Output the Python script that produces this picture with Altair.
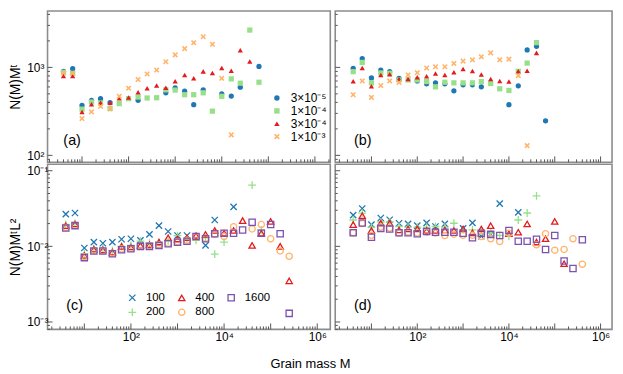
import altair as alt
import pandas as pd

FONT = "Liberation Sans"

# grain-mass bins (shared by all panels)
M = [4, 6.3, 10, 16, 25, 40, 63, 100, 160, 250, 400, 630, 1000, 1600, 2500, 4000,
     6300, 10000, 16000, 25000, 40000, 63000, 100000, 160000, 250000, 400000]

# ---------- panel (a): N(M) M^tau ----------
a_3e5 = [901, 967, 371, 422, 441, 397, None, None, 422, None, None, 514, 586, 537, 377, 556,
         None, 501, 472, 596, None, 1026]
a_1e4 = [879, 855, 335, 404, 394, 340, 387, 441, 460, 449, 452, 556, 552, 489, 489, 514,
         318, 469, 740, 661, 2656, 678]
a_3e4 = [798, 798, 312, 381, 397, 397, 445, 456, 523, 580, 622, 586, 697, 820, 752, 901,
         863, 982, 918, 1564, 1167]
a_1e3 = [863, 857, 262, 312, 361, 340, 469, 580, 727, 841, 933, 1159, 1388, 1633, 1908, 2230,
         1828, 751, 171]

# ---------- panel (b) ----------
b_3e5 = [975, 1262, 759, 933, 894, 752, None, 702, 650, 667, 650, 542, 633, 633, 601, None,
         None, 377, 617, 1580, 1738, 247]
b_1e4 = [894, 1138, 667, 864, 857, 720, 720, 720, 690, 601, 678, 667, 667, 667, 690, 655,
         571, 547, 902, 1119, 1911]
b_3e4 = [697, 983, 612, 820, 834, 739, 739, 772, 792, 850, 820, 879, 958, 910, 830, 739,
         702, 690, 902, 918, 1462]
b_1e3 = [489, 702, 456, 622, 702, 673, 820, 870, 983, 1017, 1017, 1109, 1178, 1219, 1318, 1462,
         1219, 1241, 806, 129]

# ---------- panel (c): N(M) M^tau L^2 ----------
c_100 = [0.0267, 0.0276, 0.0095, 0.0114, 0.0110, 0.0114, 0.0124, 0.0126, 0.0120, 0.0144, 0.0188,
         0.0157, 0.0139, 0.0139, None, 0.0103, 0.0223, None, 0.0333]
c_200 = [0.0195, 0.0201, 0.0080, 0.0093, 0.0093, 0.0088, 0.0100, 0.0103, 0.0117, 0.0110, 0.0112,
         0.0118, 0.0139, 0.0125, 0.0120, 0.0130, 0.0079, 0.0114, None, None, 0.0645, 0.0165]
c_400 = [0.0188, 0.0198, 0.0076, 0.0092, 0.0090, 0.0084, 0.0100, 0.0098, 0.0103, 0.0105, 0.0114,
         0.0130, 0.0125, 0.0130, 0.0139, 0.0144, 0.0162, 0.0149, 0.0162, 0.0219, 0.0103, 0.0149,
         0.0214, 0.0100, 0.0035]
c_800 = [0.0178, 0.0190, 0.0073, 0.0088, 0.0087, 0.0081, 0.0092, 0.0094, 0.0101, 0.0102, 0.0105,
         0.0110, 0.0115, 0.0120, 0.0135, 0.0128, 0.0144, 0.0135, 0.0182, None, 0.0170, 0.0194,
         0.0126, 0.0087, 0.0074]
c_1600 = [0.0175, 0.0188, 0.0071, 0.0087, 0.0087, 0.0080, 0.0090, 0.0093, 0.0100, 0.0100, 0.0103,
          0.0108, 0.0113, 0.0117, 0.0135, 0.0126, 0.0147, 0.0149, 0.0149, 0.0165, 0.0208, 0.0149,
          0.0194, 0.0147, 0.0013]

# ---------- panel (d) ----------
d_100 = [0.0259, 0.0317, 0.0194, 0.0237, 0.0225, 0.0202, 0.0198, 0.0188, 0.0204, 0.0183, 0.0198,
         None, 0.0173, 0.0204, 0.0136, 0.0144, 0.0368, None, 0.0281]
d_200 = [0.0223, 0.0275, 0.0180, 0.0210, 0.0210, 0.0183, 0.0180, 0.0180, 0.0180, 0.0183, 0.0180,
         0.0202, 0.0165, 0.0165, 0.0162, 0.0150, 0.0140, 0.0136, 0.0223, 0.0276, 0.0465]
d_400 = [0.0194, 0.0254, 0.0162, 0.0202, 0.0202, 0.0165, 0.0170, 0.0170, 0.0162, 0.0162, 0.0165,
         0.0162, 0.0170, 0.0151, 0.0170, 0.0188, None, 0.0147, 0.0154, 0.0198, 0.0114, 0.0126,
         0.0214, 0.0059]
d_800 = [0.0151, 0.0200, 0.0140, 0.0180, 0.0175, 0.0150, 0.0155, 0.0150, 0.0155, 0.0150, 0.0139,
         0.0145, 0.0140, 0.0140, 0.0135, 0.0126, 0.0116, 0.0149, None, None, 0.0105, 0.0147,
         0.0089, 0.0091, 0.0126, 0.0058]
d_1600 = [0.0151, 0.0204, 0.0132, 0.0173, 0.0170, 0.0151, 0.0151, 0.0147, 0.0157, 0.0154, 0.0154,
          0.0154, 0.0149, 0.0130, 0.0149, 0.0144, 0.0139, 0.0162, 0.0117, 0.0117, 0.0124, 0.0091,
          0.0139, 0.0064, 0.0051, 0.0122]

TOP_NAMES = ["3×10⁻⁵", "1×10⁻⁴", "3×10⁻⁴", "1×10⁻³"]
BOT_NAMES = ["100", "200", "400", "800", "1600"]

BLUE, GREEN, RED, ORANGE, PURPLE = "#1f77b4", "#98df8a", "#e41a1c", "#ffb46a", "#7b52ae"

X_FILLED = ("M0.64,-1.06L1.06,-0.64L0.42,0L1.06,0.64L0.64,1.06L0,0.42L-0.64,1.06"
            "L-1.06,0.64L-0.42,0L-1.06,-0.64L-0.64,-1.06L0,-0.42Z")
X_LINE = "M-1,-1L1,1M-1,1L1,-1"
PLUS = "M-1.25,0L1.25,0M0,-1.25L0,1.25"

TOP_COLORS = [BLUE, GREEN, RED, ORANGE]
TOP_SHAPES = ["circle", "square", "triangle-up", X_FILLED]
BOT_COLORS = [BLUE, GREEN, RED, ORANGE, PURPLE]
BOT_SHAPES = [X_LINE, PLUS, "triangle-up", "circle", "square"]


def long_df(names, lists):
    rows = []
    for name, vals in zip(names, lists):
        for m, v in zip(M, vals):
            if v is not None:
                rows.append({"M": m, "v": v, "s": name})
    return pd.DataFrame(rows)


def log_ticks(lo, hi):
    major, minor = [], []
    for e in range(-4, 8):
        for d in range(1, 10):
            t = d * 10.0 ** e
            if lo * 1.0001 < t < hi * 0.9999:
                (major if d == 1 else minor).append(t)
    return major, minor


TOP_Y = [10 ** 1.921, 10 ** 3.640]
BOT_Y = [10 ** -3.098, 10 ** -0.915]
XA = [10 ** 0.26, 10 ** 6.33]
XC = [10 ** 0.21, 10 ** 6.28]
XBD = [10 ** 0.21, 10 ** 6.25]

W_L, W_R = 286, 280
H_T, H_B = 153, 167


def x_axis():
    return alt.Axis(values=[100, 10000, 1000000],
                    labelExpr="datum.value < 1000 ? '10²' : datum.value < 100000 ? '10⁴' : '10⁶'",
                    ticks=False, tickSize=0, domain=False, grid=False, title=None,
                    labelFontSize=12, labelPadding=2, labelFont=FONT, labelColor="black")


def y_axis(top):
    if top:
        vals = [100, 1000]
        expr = "datum.value < 500 ? '10²' : '10³'"
        title = "N(M)Mᵗ"
    else:
        vals = [0.001, 0.01, 0.1]
        expr = "datum.value < 0.005 ? '10⁻³' : datum.value < 0.05 ? '10⁻²' : '10⁻¹'"
        title = "N(M)MᵗL²"
    return alt.Axis(values=vals, labelExpr=expr, ticks=False, tickSize=0, domain=False,
                    grid=False, title=title, titleFontSize=14, titleFontWeight="normal",
                    titleFont=FONT, titleColor="black", titlePadding=4,
                    labelAlign="left", labelBaseline="middle", labelPadding=21,
                    labelFontSize=12, labelFont=FONT, labelColor="black")


def panel(df, names, colors, shapes, xdom, ydom, W, H, xax, yax, legend,
          filled, size, sw, label, lx, ly):
    xs = alt.Scale(type="log", domain=xdom, nice=False)
    ys = alt.Scale(type="log", domain=ydom, nice=False)
    pts = alt.Chart(df).mark_point(filled=filled, size=size, strokeWidth=sw, opacity=1).encode(
        x=alt.X("M:Q", scale=xs, axis=xax),
        y=alt.Y("v:Q", scale=ys, axis=yax),
        color=alt.Color("s:N", scale=alt.Scale(domain=names, range=colors), legend=legend),
        shape=alt.Shape("s:N", scale=alt.Scale(domain=names, range=shapes), legend=legend),
    )
    xmaj, xmin = log_ticks(*xdom)
    ymaj, ymin = log_ticks(*ydom)
    layers = [pts]
    for vals, ln in ((xmaj, 6), (xmin, 3)):
        layers.append(alt.Chart(pd.DataFrame({"t": vals})).mark_rule(color="#555", strokeWidth=1)
                      .encode(x=alt.X("t:Q", scale=xs, axis=xax),
                              y=alt.value(H), y2=alt.value(H - ln)))
    for vals, ln in ((ymaj, 5), (ymin, 2.5)):
        layers.append(alt.Chart(pd.DataFrame({"t": vals})).mark_rule(color="#555", strokeWidth=1)
                      .encode(y=alt.Y("t:Q", scale=ys, axis=yax),
                              x=alt.value(0), x2=alt.value(ln)))
    layers.append(alt.Chart(pd.DataFrame({"t": [label]}))
                  .mark_text(align="left", baseline="middle", fontSize=14.5, font=FONT, color="black")
                  .encode(text="t:N", x=alt.value(lx), y=alt.value(ly)))
    return alt.layer(*layers).properties(width=W, height=H)


top_legend = alt.Legend(orient="none", legendX=226, legendY=82, title=None, labelFontSize=12,
                        labelFont=FONT, labelColor="black", symbolSize=30, rowPadding=1,
                        labelOffset=8, padding=0)
bot_legend = alt.Legend(orient="none", legendX=80, legendY=129, title=None, columns=3,
                        columnPadding=10, rowPadding=2, labelFontSize=11.5, labelFont=FONT,
                        labelColor="black", symbolSize=40, symbolStrokeWidth=1.3,
                        labelOffset=8, padding=0)

dfa = long_df(TOP_NAMES, [a_3e5, a_1e4, a_3e4, a_1e3])
dfb = long_df(TOP_NAMES, [b_3e5, b_1e4, b_3e4, b_1e3])
dfc = long_df(BOT_NAMES, [c_100, c_200, c_400, c_800, c_1600])
dfd = long_df(BOT_NAMES, [d_100, d_200, d_400, d_800, d_1600])

pa = panel(dfa, TOP_NAMES, TOP_COLORS, TOP_SHAPES, XA, TOP_Y, W_L, H_T, None, y_axis(True),
           top_legend, True, 28, 1, "(a)", 16, 131)
pb = panel(dfb, TOP_NAMES, TOP_COLORS, TOP_SHAPES, XBD, TOP_Y, W_R, H_T, None, None,
           None, True, 28, 1, "(b)", 19, 131)
pc = panel(dfc, BOT_NAMES, BOT_COLORS, BOT_SHAPES, XC, BOT_Y, W_L, H_B, x_axis(), y_axis(False),
           bot_legend, False, 40, 1.3, "(c)", 19, 143)
pd_ = panel(dfd, BOT_NAMES, BOT_COLORS, BOT_SHAPES, XBD, BOT_Y, W_R, H_B, x_axis(), None,
            None, False, 40, 1.3, "(d)", 19, 143)

chart = alt.concat(pa, pb, pc, pd_, columns=2).properties(
    spacing={"row": 2, "column": 5},
    bounds="flush",
    padding={"left": 0, "top": 0, "right": 2, "bottom": 0},
    title=alt.TitleParams(text="Grain mass M", orient="bottom", anchor="middle", fontSize=13,
                          fontWeight="normal", font=FONT, color="black", offset=15),
).resolve_scale(
    x="independent", y="independent", color="independent", shape="independent"
).configure(font=FONT).configure_view(stroke="#8c8c8c", strokeWidth=1.6)

chart.save("out.html", embed_options={"renderer": "svg", "actions": False})
